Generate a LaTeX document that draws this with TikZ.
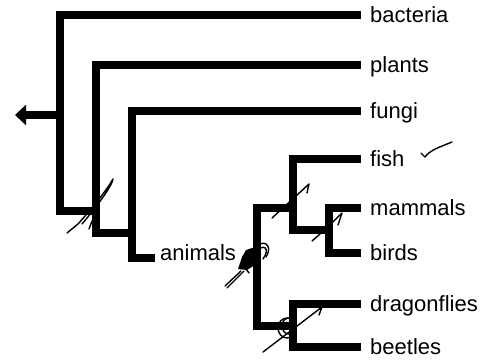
\documentclass[tikz,border=0pt]{standalone}
\usepackage{fontspec}
\setmainfont{Liberation Sans}
\usetikzlibrary{arrows.meta}
\begin{document}
\begin{tikzpicture}[x=1pt,y=-1pt,
  branch/.style={line width=7.5pt,line join=miter,line cap=butt},
  taxon/.style={anchor=base west,inner sep=0pt,font=\fontsize{22}{22}\selectfont},
  pen/.style={line width=1.4pt,line cap=round,line join=round}]
\useasboundingbox (0,0) rectangle (496,364);
% label nodes
\node[taxon] (bacteria) at (370,22.5) {bacteria};
\node[taxon] (plants) at (370,72.5) {plants};
\node[taxon] (fungi) at (370,118.5) {fungi};
\node[taxon] (fish) at (370,166.5) {fish};
\node[taxon] (mammals) at (370,215.5) {mammals};
\node[taxon] (birds) at (370,260.5) {birds};
\node[taxon] (dragonflies) at (370,311.5) {dragonflies};
\node[taxon] (beetles) at (370,354.5) {beetles};
\node[taxon] (animals) at (160,260) {animals};
% leaf ends
\coordinate (eb) at (361,15);
\coordinate (ep) at (361,65);
\coordinate (ef) at (361,111);
\coordinate (efi) at (361,159);
\coordinate (em) at (361,208);
\coordinate (ebi) at (361,253);
\coordinate (ed) at (361,304);
\coordinate (ebe) at (361,347);
\coordinate (ea) at (155,258);
% junctions
\coordinate (n1) at (60,211);
\coordinate (n2) at (96,233);
\coordinate (n3) at (132,258);
\coordinate (root) at (60,115);
\coordinate (tip) at (15,115);
\coordinate (nf) at (293,208);
\coordinate (nmb) at (329,230);
\coordinate (ndb) at (293,326);
% branches
\draw[branch] (eb) -| (n1) -- (n2 |- n1);
\draw[branch] (ep) -| (n2) -- (n3 |- n2);
\draw[branch] (ef) -| (n3) -- (ea);
\draw[branch,-{Triangle[length=11pt,width=20pt]}] (root) -- (tip);
\draw[branch] (nf) -- (257,208) -- (257,326) -- (ndb);
\draw[branch] (efi) -- (293,159) -- (293,230) -- (nmb);
\draw[branch] (em) -- (329,208) -- (329,253) -- (ebi);
\draw[branch] (ed) -- (293,304) -- (293,347) -- (ebe);
% pen marks
\draw[pen] (67,233) -- (78,224) .. controls (95,205) and (108,188) .. (113,179)
  .. controls (112,186) and (98,205) .. (82,224);
\draw[pen] (89,229) -- (92,221);
\draw[pen] (272,218) -- (309,184) -- (307,193);
\draw[pen] (312,241) .. controls (318,236) and (330,225) .. (342,213) -- (338,225);
\fill (238,269) -- (242,257) -- (246,250) -- (258,246) -- (261,250) -- (255,265) -- (247,270) -- cycle;
\draw[pen] (254,249) .. controls (262,238) and (274,244) .. (266,257);
\draw[pen] (256,252) .. controls (263,243) and (271,248) .. (263,259);
\draw[pen] (244,266) -- (249,273);
\draw[pen] (225,286) -- (241,271);
\draw[pen] (227,288) -- (244,271);
\draw[pen] (287,328) ellipse (9 and 10);
\draw[pen] (289,326) ellipse (7 and 8);
\draw[pen] (263,352) -- (322,307) -- (319,315);
\draw[pen] (421,153) -- (425,157) .. controls (430,150) and (440,147) .. (452,142);
\end{tikzpicture}
\end{document}
